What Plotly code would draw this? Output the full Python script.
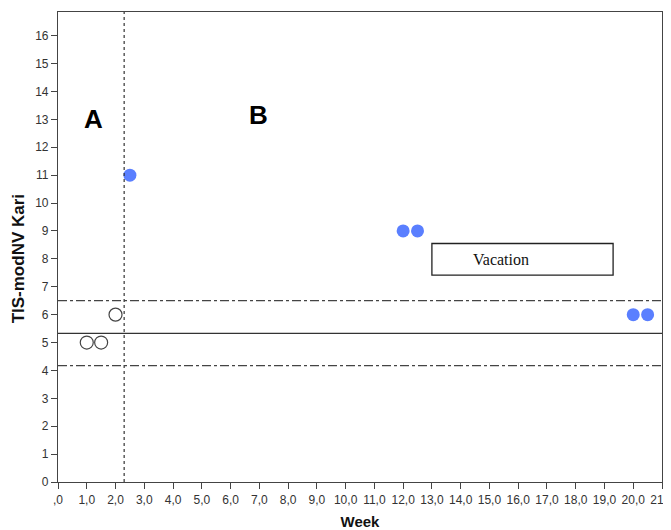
import plotly.graph_objects as go

# Data
baseline_weeks = [1.0, 1.5, 2.0]
baseline_scores = [5, 5, 6]
treat_weeks = [2.5, 12.0, 12.5, 20.0, 20.5]
treat_scores = [11, 9, 9, 6, 6]
phase_change_week = 2.3
mean_level = 5.33
upper_band = 6.5
lower_band = 4.17
vacation_start, vacation_end = 13.0, 19.3
vacation_low, vacation_high = 7.42, 8.55
x_ticks = [float(i) for i in range(0, 22)]
x_ticklabels = [",0"] + [f"{i},0" for i in range(1, 22)]
y_ticks = list(range(0, 17))

fig = go.Figure()
fig.add_trace(go.Scatter(
    x=baseline_weeks, y=baseline_scores, mode="markers",
    marker=dict(size=13, color="white", line=dict(color="#444444", width=1.2)),
    showlegend=False, cliponaxis=False))
fig.add_trace(go.Scatter(
    x=treat_weeks, y=treat_scores, mode="markers",
    marker=dict(size=13, color="#5a7fff", line=dict(width=0)),
    showlegend=False, cliponaxis=False))

# Reference lines
fig.add_shape(type="line", xref="x", yref="paper", x0=phase_change_week, x1=phase_change_week,
              y0=0, y1=1, line=dict(color="#333333", width=1.2, dash="dot"))
fig.add_shape(type="line", xref="paper", yref="y", x0=0, x1=1, y0=mean_level, y1=mean_level,
              line=dict(color="#333333", width=1.2))
for yv in (upper_band, lower_band):
    fig.add_shape(type="line", xref="paper", yref="y", x0=0, x1=1, y0=yv, y1=yv,
                  line=dict(color="#444444", width=1.2, dash="dashdot"))

# Vacation box
fig.add_shape(type="rect", xref="x", yref="y", x0=vacation_start, x1=vacation_end,
              y0=vacation_low, y1=vacation_high, line=dict(color="#222222", width=1.3),
              fillcolor="white")
fig.add_annotation(x=15.4, y=(vacation_low + vacation_high) / 2, text="Vacation",
                   showarrow=False, font=dict(family="Liberation Serif", size=16, color="#111111"))

fig.add_annotation(x=1.23, y=13.0, text="<b>A</b>", showarrow=False,
                   font=dict(family="Liberation Sans", size=26, color="black"))
fig.add_annotation(x=6.97, y=13.15, text="<b>B</b>", showarrow=False,
                   font=dict(family="Liberation Sans", size=26, color="black"))

# Y-axis title placed as rotated annotation
fig.add_annotation(xref="paper", yref="paper", x=-0.066, y=0.474, text="<b>TIS-modNV Kari</b>",
                   textangle=-90, showarrow=False, xanchor="center", yanchor="middle",
                   font=dict(family="Liberation Sans", size=17, color="#111111"))

fig.update_layout(
    width=663, height=522,
    margin=dict(l=50, r=9, t=4, b=48),
    plot_bgcolor="white", paper_bgcolor="white",
    font=dict(family="Liberation Sans", size=12, color="#333333"),
    xaxis=dict(range=[0, 21], tickmode="array", tickvals=x_ticks, ticktext=x_ticklabels,
               automargin=False, ticklabeloverflow="allow",
               showgrid=False, zeroline=False, showline=True, linecolor="#444444", linewidth=1.2,
               mirror=True, ticks="outside", ticklen=6, tickcolor="#444444",
               tickfont=dict(size=12, color="#333333"),
               title=dict(text="<b>Week</b>", font=dict(size=15, color="#111111"))),
    yaxis=dict(range=[0, 16.85], tickmode="array", tickvals=y_ticks,
               automargin=False,
               showgrid=False, zeroline=False, showline=True, linecolor="#444444", linewidth=1.2,
               mirror=True, ticks="outside", ticklen=6, tickcolor="#444444",
               tickfont=dict(size=12, color="#333333")),
)

fig.write_html("out.html")
